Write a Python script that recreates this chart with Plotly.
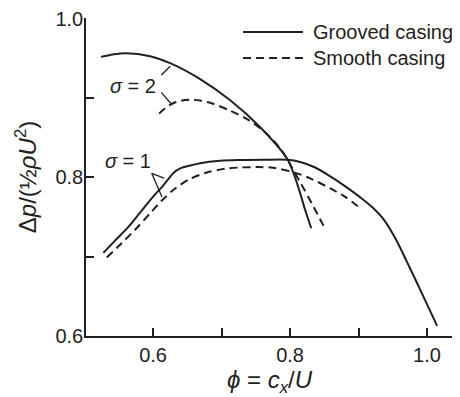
import plotly.graph_objects as go

# Grooved casing, sigma = 2
g2_phi = [0.524, 0.5415, 0.5605, 0.5956, 0.6249, 0.6687, 0.7126, 0.7564, 0.7959, 0.8047, 0.8149, 0.8222, 0.8310]
g2_dp  = [0.9518, 0.9549, 0.9564, 0.9526, 0.9438, 0.9237, 0.8970, 0.8631, 0.8232, 0.8060, 0.7796, 0.7583, 0.7357]

# Smooth casing, sigma = 2
s2_phi = [0.6088, 0.6175, 0.6278, 0.6409, 0.6541, 0.6687, 0.6877, 0.7126, 0.7374, 0.7608, 0.7857, 0.8003, 0.8149, 0.8325, 0.8500]
s2_dp  = [0.8802, 0.8871, 0.8927, 0.8965, 0.8977, 0.8967, 0.8927, 0.8839, 0.8732, 0.8588, 0.8362, 0.8161, 0.7935, 0.7658, 0.7369]

# Grooved casing, sigma = 1
g1_phi = [0.5273, 0.5444, 0.5639, 0.5883, 0.6029, 0.6132, 0.6219, 0.6297, 0.6395, 0.6541, 0.6687, 0.6980, 0.7272,
          0.7637, 0.7959, 0.8149, 0.8368, 0.8588, 0.8807, 0.9026, 0.9202, 0.9377, 0.9553, 0.9699, 0.9845, 0.9991, 1.0148]
g1_dp  = [0.7046, 0.7200, 0.7373, 0.7633, 0.7784, 0.7878, 0.7972, 0.8054, 0.8111, 0.8148, 0.8177, 0.8207, 0.8217,
          0.8221, 0.8220, 0.8192, 0.8123, 0.8010, 0.7884, 0.7746, 0.7621, 0.7457, 0.7206, 0.6948, 0.6685, 0.6415, 0.6126]

# Smooth casing, sigma = 1
s1_phi = [0.5323, 0.5518, 0.5737, 0.5956, 0.6132, 0.6322, 0.6541, 0.6785, 0.7053, 0.7272, 0.7520, 0.7754, 0.8047,
          0.8295, 0.8588, 0.8807, 0.9026]
s1_dp  = [0.6989, 0.7149, 0.7338, 0.7545, 0.7709, 0.7859, 0.7979, 0.8060, 0.8107, 0.8123, 0.8128, 0.8119, 0.8064,
          0.7985, 0.7859, 0.7752, 0.7608]

legend_names = ["Grooved casing", "Smooth casing"]
major_ticks = [0.6, 0.8, 1.0]

INK = "#231f20"
FONT = "Liberation Sans, Arial, sans-serif"
DASH = "8px,5px"
SM = 0.9

fig = go.Figure()
fig.add_trace(go.Scatter(x=g2_phi, y=g2_dp, mode="lines", name=legend_names[0], showlegend=False,
                         line=dict(color=INK, width=2, shape="spline", smoothing=SM)))
fig.add_trace(go.Scatter(x=s2_phi, y=s2_dp, mode="lines", name=legend_names[1], showlegend=False,
                         line=dict(color=INK, width=2, dash=DASH, shape="spline", smoothing=SM)))
fig.add_trace(go.Scatter(x=g1_phi, y=g1_dp, mode="lines", name=legend_names[0], showlegend=False,
                         line=dict(color=INK, width=2, shape="spline", smoothing=SM)))
fig.add_trace(go.Scatter(x=s1_phi, y=s1_dp, mode="lines", name=legend_names[1], showlegend=False,
                         line=dict(color=INK, width=2, dash=DASH, shape="spline", smoothing=SM)))

# leader lines for the sigma labels
leaders = [
    (0.612, 0.929, 0.625, 0.940),
    (0.612, 0.907, 0.626, 0.893),
    (0.598, 0.805, 0.616, 0.799),
    (0.598, 0.805, 0.613, 0.775),
]
for x0, y0, x1, y1 in leaders:
    fig.add_shape(type="line", x0=x0, y0=y0, x1=x1, y1=y1, xref="x", yref="y",
                  line=dict(color=INK, width=1.3))

fig.add_annotation(x=0.571, y=0.915, text="<i>σ</i> = 2", showarrow=False,
                   font=dict(size=20, family=FONT, color=INK))
fig.add_annotation(x=0.563, y=0.821, text="<i>σ</i> = 1", showarrow=False,
                   font=dict(size=20, family=FONT, color=INK))

# legend drawn in paper coordinates
leg_rows = [(0.956, "solid"), (0.874, DASH)]
for (yp, dash), name in zip(leg_rows, legend_names):
    fig.add_shape(type="line", xref="paper", yref="paper", x0=0.428, x1=0.591, y0=yp, y1=yp,
                  line=dict(color=INK, width=2, dash=dash))
    fig.add_annotation(xref="paper", yref="paper", x=0.613, y=yp, xanchor="left", yanchor="middle",
                       text=name, showarrow=False, font=dict(size=20, family=FONT, color=INK))

# page body has an 8px margin: figure is 452x389 placed at (8, 8)
fig.update_layout(
    width=452, height=389,
    margin=dict(l=78, r=7, t=10, b=61),
    paper_bgcolor="white", plot_bgcolor="white",
    font=dict(family=FONT, size=20, color=INK),
    showlegend=False,
)
axis_common = dict(tickvals=major_ticks, ticks="inside", ticklen=8, tickwidth=1.5, tickcolor=INK,
                   minor=dict(dtick=0.1, tick0=0.6, ticks="inside", ticklen=8, tickwidth=1.5, tickcolor=INK, showgrid=False),
                   showline=True, linecolor=INK, linewidth=1.5, showgrid=False, zeroline=False,
                   automargin=False, tickformat=".1f", ticklabeloverflow="allow")
fig.update_xaxes(range=[0.502, 1.038], ticklabelstandoff=0,
                 title=dict(text="<i>ϕ</i> = <i>c<sub>x</sub></i>/<i>U</i>", standoff=27), **axis_common)
fig.update_yaxes(range=[0.5998, 1.0008], ticklabelstandoff=-3,
                 title=dict(text="Δ<i>p</i>/(½<i>ρU</i><sup>2</sup>)", standoff=12), **axis_common)

fig.write_html("out.html")
